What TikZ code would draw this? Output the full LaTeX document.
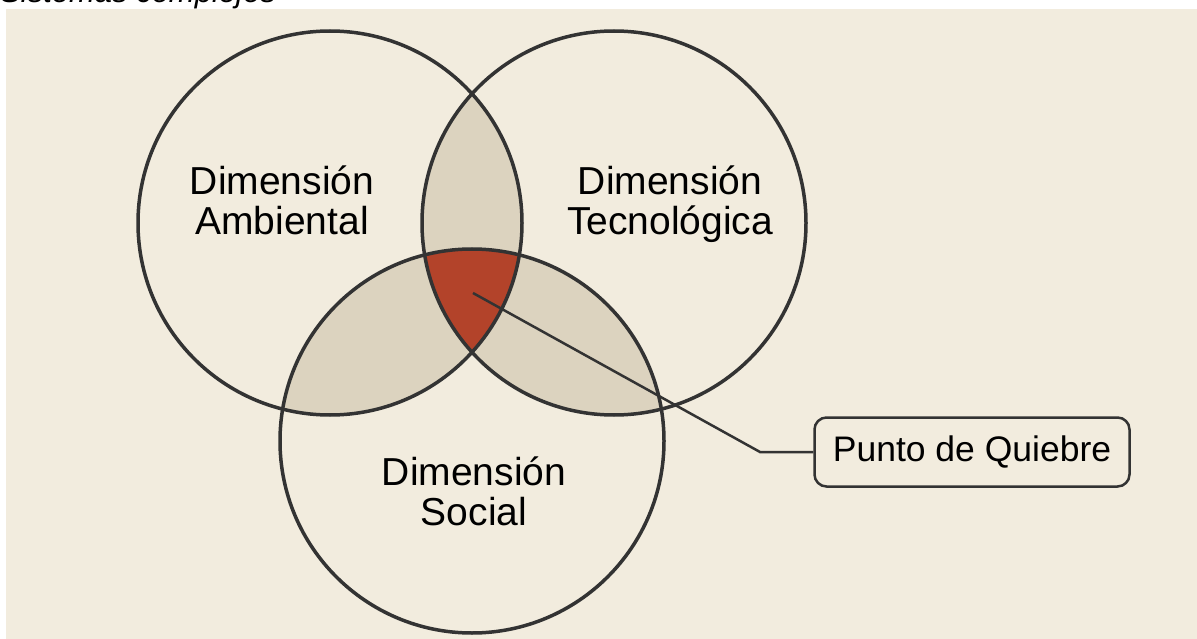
\documentclass[tikz,border=0pt]{standalone}
\usepackage{fontspec}
\setmainfont{Liberation Sans}
\definecolor{paper}{HTML}{F2ECDE}
\definecolor{overlap}{HTML}{DCD3BF}
\definecolor{quiebre}{HTML}{B3432A}
\definecolor{ink}{HTML}{333333}
\tikzset{
  ring/.style={draw=ink, line width=3.5pt},
  dimlabel/.style={align=center, inner sep=0pt, text=black, font=\fontsize{39}{40}\selectfont},
  callout/.style={draw=ink, line width=2.5pt, rounded corners=12pt, fill=paper,
    minimum width=315pt, minimum height=69pt, font=\fontsize{35.5}{37}\selectfont}
}
\begin{document}
\begin{tikzpicture}[x=1pt, y=-1pt]
\useasboundingbox (0,0) rectangle (1197,639);
\fill[white] (0,0) rectangle (1197,639);
\fill[paper] (6,9) rectangle (1197,639);

% title, cut off at the top
\node[anchor=base west, inner sep=0pt, font=\itshape\fontsize{31}{33}\selectfont] (title) at (0,3) {Sistemas complejos};

\coordinate (amb) at (330,223);
\coordinate (tec) at (614,223);
\coordinate (soc) at (472,441);

% overlaps
\begin{scope}
\clip (amb) circle (192pt);
\fill[overlap] (tec) circle (192pt);
\fill[overlap] (soc) circle (192pt);
\end{scope}
\begin{scope}
\clip (tec) circle (192pt);
\fill[overlap] (soc) circle (192pt);
\end{scope}
\begin{scope}
\clip (amb) circle (192pt);
\clip (tec) circle (192pt);
\fill[quiebre] (soc) circle (192pt);
\end{scope}

\draw[ring] (amb) circle (192pt);
\draw[ring] (tec) circle (192pt);
\draw[ring] (soc) circle (192pt);

\node[dimlabel, anchor=base] (ambtext) at (282,235) {Dimensión\\Ambiental};
\node[dimlabel, anchor=base] (tectext) at (670,235) {Dimensión\\Tecnológica};
\node[dimlabel, anchor=base] (soctext) at (474,525) {Dimensión\\Social};

\node[callout] (punto) at (972,452) {Punto de Quiebre};

\coordinate (centro) at (473,293);
\coordinate (codo) at (760,452);
\draw[ink, line width=2.5pt] (centro) -- (codo) -- (punto.west);
\end{tikzpicture}
\end{document}
